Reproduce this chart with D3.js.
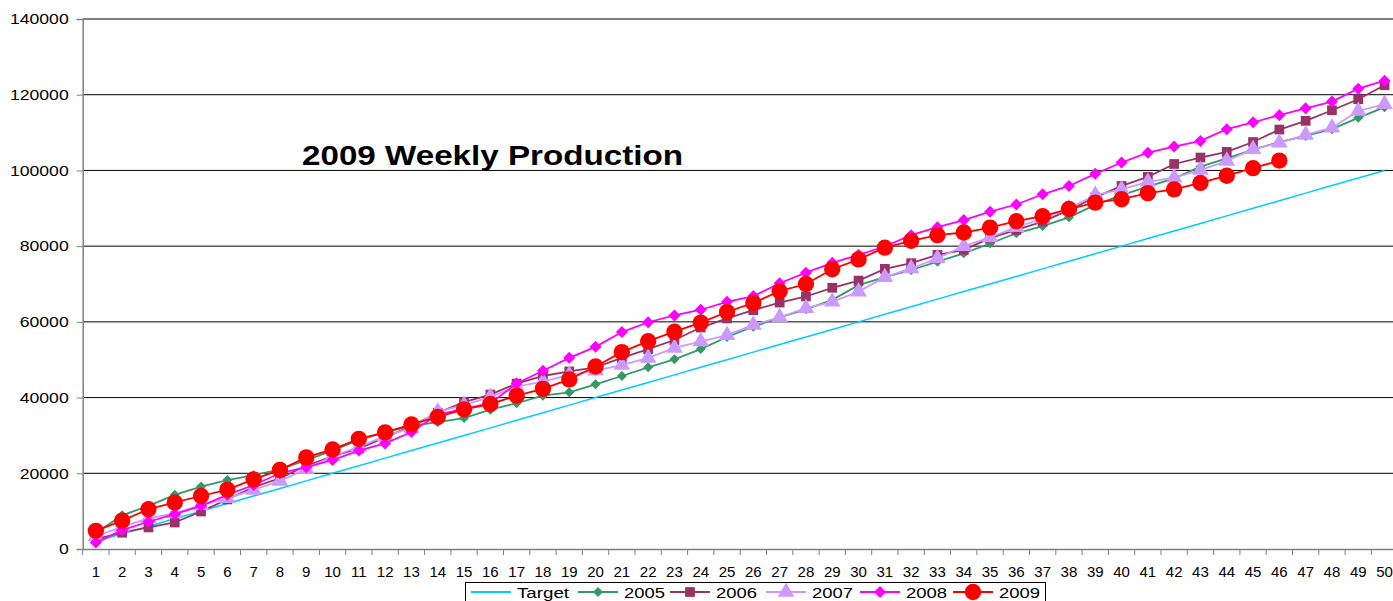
<!DOCTYPE html>
<html>
<head>
<meta charset="utf-8">
<script src="https://cdn.jsdelivr.net/npm/d3@7"></script>
<style>
  body { margin: 0; background: #fff; }
  svg { font-family: "Liberation Sans", Arial, sans-serif; display: block; }
</style>
</head>
<body>
<svg id="svg1"></svg>
<script>
// data
const weeks = [1,2,3,4,5,6,7,8,9,10,11,12,13,14,15,16,17,18,19,20,21,22,23,24,25,
  26,27,28,29,30,31,32,33,34,35,36,37,38,39,40,41,42,43,44,45,46,47,48,49,50];
const yTicks = [0, 20000, 40000, 60000, 80000, 100000, 120000, 140000];

const target = [2000,4000,6000,8000,10000,12000,14000,16000,18000,20000,22000,24000,26000,28000,30000,
  32000,34000,36000,38000,40000,42000,44000,46000,48000,50000,52000,54000,56000,58000,60000,
  62000,64000,66000,68000,70000,72000,74000,76000,78000,80000,82000,84000,86000,88000,90000,
  92000,94000,96000,98000,100000];
const y2005 = [4200,8900,11400,14300,16500,18200,19500,21000,23500,26000,28800,30800,32500,33500,34600,
  36800,38500,40500,41400,43500,45700,48000,50100,52800,56000,58700,61200,63300,65800,69700,
  71800,73700,75900,78100,80700,83400,85300,87600,90900,93500,95700,97900,101000,103200,105500,
  107500,109100,110900,113900,116700];
const y2006 = [2600,4300,5700,7000,9900,13100,16300,18700,22000,24500,26500,29500,32500,36000,38800,
  40800,43700,45700,46900,48000,50500,52800,55200,58500,60900,63100,65100,66700,69000,70900,
  74000,75500,77700,79000,82100,84300,86500,89500,92900,95900,98300,101700,103400,104900,107500,
  110800,113100,115900,118800,122500];
const y2007 = [3300,5900,8100,9400,11600,13400,15600,18000,21100,24500,27000,29800,32000,36300,38000,
  40200,42900,44200,46000,47100,48600,50500,53100,54800,56500,59200,61200,63600,65300,68000,
  71800,74100,76800,80000,82300,85000,87300,90000,93500,95000,97000,98100,100100,102500,105600,
  107300,109400,111300,115700,117500];
const y2008 = [1700,5000,7200,9200,11400,14300,16900,20000,21600,23500,26000,27900,30900,35500,37000,
  38500,43700,47100,50500,53400,57300,59900,61700,63200,65300,66800,70200,73000,75600,77700,
  79900,82900,85000,86900,89100,91000,93700,95900,99100,102100,104700,106300,107800,110900,112700,
  114600,116400,118200,121600,123700];
const y2009 = [4800,7500,10500,12300,14000,15700,18400,20900,24200,26300,29100,30800,32900,34900,36900,
  38300,40500,42300,44800,48200,52000,54900,57400,59800,62600,65000,68100,70000,73900,76500,
  79600,81400,82900,83600,84900,86600,87900,89800,91500,92400,94000,95000,96700,98600,100600,
  102600];

const seriesNames = ["Target", "2005", "2006", "2007", "2008", "2009"];
const seriesValues = [target, y2005, y2006, y2007, y2008, y2009];

// styles (diamonds are squares turned 45deg)
const styles = {
  "Target": {color: "#00ccff", symbol: null},
  "2005": {color: "#339966", symbol: d3.symbolSquare, size: 50, rot: 45},
  "2006": {color: "#993366", symbol: d3.symbolSquare, size: 95, rot: 0},
  "2007": {color: "#cc99ff", symbol: d3.symbolTriangle, size: 120, rot: 0},
  "2008": {color: "#ff00ff", symbol: d3.symbolSquare, size: 72, rot: 45},
  "2009": {color: "#ff0000", symbol: d3.symbolCircle, size: 210, rot: 0}
};

// layout
const W = 1393, H = 601;
const plot = {left: 82.7, right: 1397.7, top: 19, bottom: 549};

const svg = d3.select('#svg1')
    .attr('width', W)
    .attr('height', H);

const x = d3.scaleBand()
    .domain(weeks)
    .range([plot.left, plot.right]);

const y = d3.scaleLinear()
    .domain([0, 140000])
    .range([plot.bottom, plot.top]);

// grid lines
svg.append("g")
    .selectAll("line")
    .data(yTicks.filter(d => d > 0))
    .enter()
    .append("line")
    .attr("x1", plot.left)
    .attr("x2", plot.right)
    .attr("y1", d => y(d))
    .attr("y2", d => y(d))
    .attr("stroke", "#000")
    .attr("stroke-width", 1);

// Y axis
const yAxis = svg.append("g")
    .attr("transform", "translate(" + plot.left + ",0)")
    .call(d3.axisLeft(y).tickValues(yTicks).tickSize(6).tickPadding(8).tickFormat(d3.format("d")));
yAxis.select(".domain").attr("stroke", "#808080").attr("stroke-width", 1.5);
yAxis.selectAll(".tick line").attr("stroke", "#808080");
yAxis.selectAll("text")
    .attr("font-size", 15)
    .attr("fill", "#000")
    .attr("font-family", "Liberation Sans, Arial, sans-serif")
    .attr("textLength", d => String(d).length * 9.8)
    .attr("lengthAdjust", "spacingAndGlyphs");

// X axis
const xAxis = svg.append("g")
    .attr("transform", "translate(0," + plot.bottom + ")")
    .call(d3.axisBottom(x).tickSize(0).tickPadding(17));
xAxis.select(".domain").attr("stroke", "#808080").attr("stroke-width", 1.5);
xAxis.selectAll("text").attr("font-size", 15).attr("fill", "#000")
    .attr("font-family", "Liberation Sans, Arial, sans-serif");
// tick marks on band edges
svg.append("g")
    .selectAll("line")
    .data(weeks)
    .enter()
    .append("line")
    .attr("x1", d => x(d))
    .attr("x2", d => x(d))
    .attr("y1", plot.bottom)
    .attr("y2", plot.bottom + 6)
    .attr("stroke", "#808080");

// lines and markers
const line = d3.line()
    .x((d, i) => x(weeks[i]) + x.bandwidth() / 2)
    .y(d => y(d));

seriesNames.forEach(function(name, k) {
  const st = styles[name];
  const vals = seriesValues[k];
  svg.append("path")
      .datum(vals)
      .attr("fill", "none")
      .attr("stroke", st.color)
      .attr("stroke-width", name === "Target" ? 1.5 : 1.8)
      .attr("d", line);
  if (st.symbol) {
    svg.append("g")
        .selectAll("path")
        .data(vals)
        .enter()
        .append("path")
        .attr("d", d3.symbol().type(st.symbol).size(st.size))
        .attr("transform", (d, i) => "translate(" + (x(weeks[i]) + x.bandwidth() / 2) + "," + y(d) + ")rotate(" + st.rot + ")")
        .attr("fill", st.color);
  }
});

// title
svg.append("text")
    .attr("x", 302)
    .attr("y", 165)
    .attr("font-size", 28)
    .attr("font-weight", "bold")
    .attr("fill", "#000")
    .attr("textLength", 381)
    .attr("lengthAdjust", "spacingAndGlyphs")
    .text("2009 Weekly Production");

// legend
const legend = svg.append("g");
legend.append("rect")
    .attr("x", 465.5)
    .attr("y", 582.5)
    .attr("width", 580)
    .attr("height", 30)
    .attr("fill", "#fff")
    .attr("stroke", "#000");

const legendX = [471, 578, 670, 766, 860, 953];
seriesNames.forEach(function(name, k) {
  const st = styles[name];
  const gx = legendX[k];
  const gy = 592;
  legend.append("line")
      .attr("x1", gx).attr("x2", gx + 40)
      .attr("y1", gy).attr("y2", gy)
      .attr("stroke", st.color)
      .attr("stroke-width", 1.8);
  if (st.symbol) {
    legend.append("path")
        .attr("d", d3.symbol().type(st.symbol).size(st.size))
        .attr("transform", "translate(" + (gx + 20) + "," + gy + ")rotate(" + st.rot + ")")
        .attr("fill", st.color);
  }
  legend.append("text")
      .attr("x", gx + 46)
      .attr("y", gy + 5.5)
      .attr("font-size", 15.5)
      .attr("fill", "#000")
      .attr("textLength", name === "Target" ? 52 : 41)
      .attr("lengthAdjust", "spacingAndGlyphs")
      .text(name);
});
</script>
</body>
</html>
